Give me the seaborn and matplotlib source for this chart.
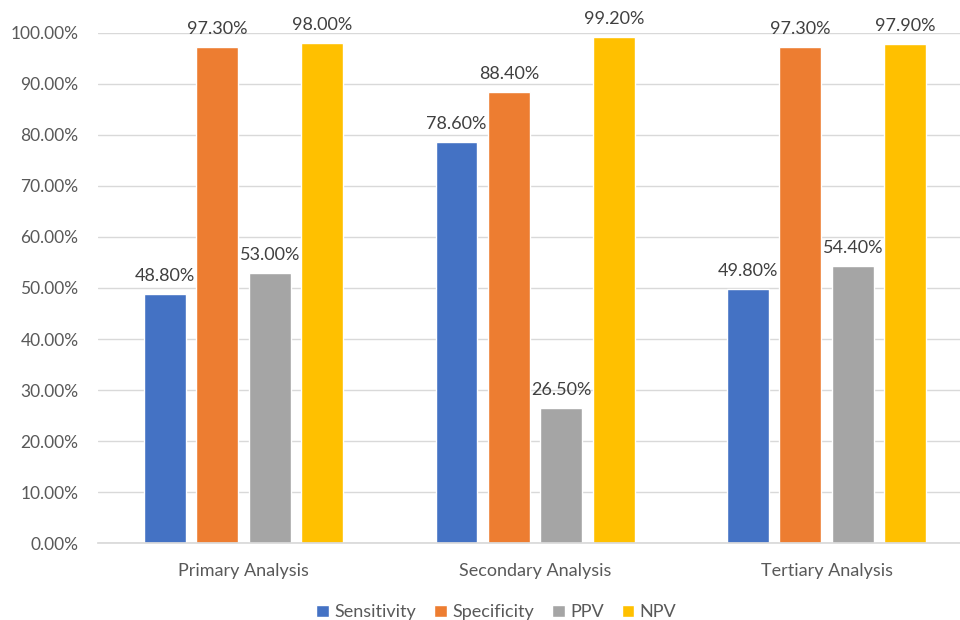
import matplotlib
matplotlib.use("Agg")
import matplotlib.pyplot as plt
import seaborn as sns
import pandas as pd
from matplotlib.ticker import FuncFormatter
from matplotlib.patches import Patch

categories = ["Primary Analysis", "Secondary Analysis", "Tertiary Analysis"]
metrics = ["Sensitivity", "Specificity", "PPV", "NPV"]
sensitivity = [0.488, 0.786, 0.498]
specificity = [0.973, 0.884, 0.973]
ppv = [0.530, 0.265, 0.544]
npv = [0.980, 0.992, 0.979]
colors = ["#4472C4", "#ED7D31", "#A5A5A5", "#FFC000"]

rows = []
for m, vals in zip(metrics, [sensitivity, specificity, ppv, npv]):
    for c, v in zip(categories, vals):
        rows.append({"Category": c, "Metric": m, "Value": v})
df = pd.DataFrame(rows)

sns.set_theme(style="white")
plt.rcParams["font.family"] = ["Lato", "DejaVu Sans"]

fig = plt.figure(figsize=(9.6, 6.2), dpi=100)
ax = fig.add_axes([0.102, 0.124, 0.911, 0.823])
sns.barplot(data=df, x="Category", y="Value", hue="Metric", order=categories,
            hue_order=metrics, palette=colors, width=0.72, gap=0.2,
            saturation=1, ax=ax, legend=False, errorbar=None)

ax.set_ylim(0, 1.0)
ax.set_xlim(-0.5, 2.5)
ax.set_yticks([i / 10 for i in range(11)])
ax.yaxis.set_major_formatter(FuncFormatter(lambda v, p: f"{v*100:.2f}%"))
ax.grid(axis="y", color="#D9D9D9", linewidth=1)
ax.set_axisbelow(True)
for s in ["top", "right", "left"]:
    ax.spines[s].set_visible(False)
ax.spines["bottom"].set_color("#D9D9D9")
ax.tick_params(axis="y", length=0, labelsize=12.5, colors="#595959", pad=14)
ax.tick_params(axis="x", length=0, labelsize=13, colors="#595959", pad=14)
ax.set_xlabel("")
ax.set_ylabel("")

for cont in ax.containers:
    ax.bar_label(cont, labels=[f"{b.get_height()*100:.2f}%" for b in cont],
                 padding=7, fontsize=13, color="#404040", clip_on=False)

handles = [Patch(facecolor=c, label=m) for m, c in zip(metrics, colors)]
fig.legend(handles=handles, loc="lower center", bbox_to_anchor=(0.517, -0.027),
           ncol=4, frameon=False, fontsize=13, handlelength=0.7, handleheight=0.7,
           handletextpad=0.3, columnspacing=1.0, labelcolor="#595959")

fig.savefig("out.png", dpi=100)
